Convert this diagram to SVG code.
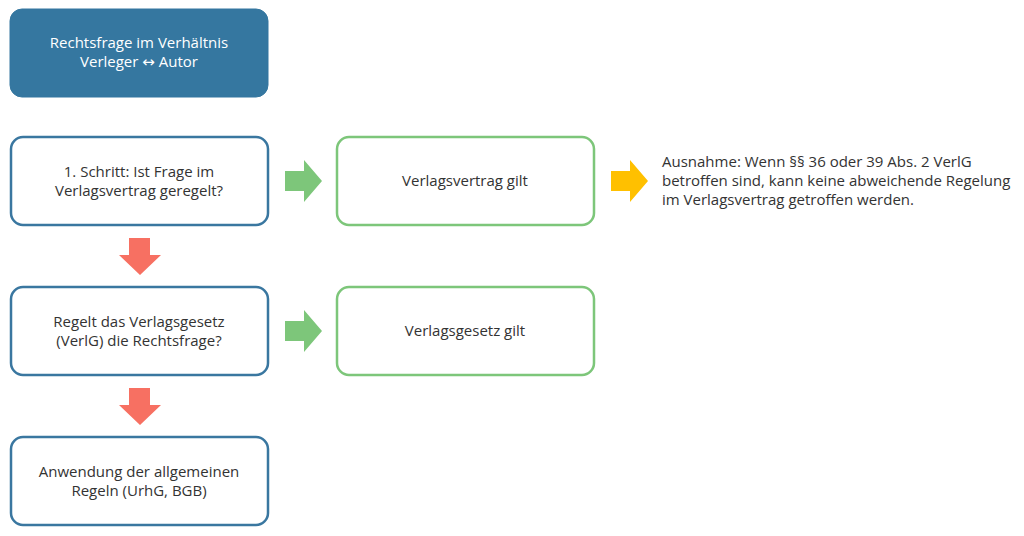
<svg xmlns="http://www.w3.org/2000/svg" width="1024" height="536" viewBox="0 0 1024 536">
<style>
text{font-family:"Open Sans","Noto Sans","DejaVu Sans",sans-serif;font-size:15px;fill:#333333;text-anchor:middle}
.blue{fill:#ffffff;stroke:#3a77a0;stroke-width:2.5}
.green{fill:#ffffff;stroke:#7dc67a;stroke-width:2.5}
.head{fill:#3577a0;stroke:#3577a0;stroke-width:1}
.wt{fill:#ffffff}
</style>
<rect width="1024" height="536" fill="#ffffff"/>
<g id="n0"><rect class="head" x="10" y="9" width="258" height="88" rx="12"/><text class="wt" x="139" y="48">Rechtsfrage im Verhältnis</text><text class="wt" x="139" y="67">Verleger ↔ Autor</text></g>
<g id="n1"><rect class="blue" x="11" y="137" width="257" height="88" rx="12"/><text x="139" y="177">1. Schritt: Ist Frage im</text><text x="139" y="196">Verlagsvertrag geregelt?</text></g>
<g id="n2"><rect class="green" x="337" y="137" width="257" height="88" rx="12"/><text x="465" y="186">Verlagsvertrag gilt</text></g>
<g id="n3"><text x="662" y="167" style="text-anchor:start">Ausnahme: Wenn §§ 36 oder 39 Abs. 2 VerlG</text><text x="662" y="186" style="text-anchor:start">betroffen sind, kann keine abweichende Regelung</text><text x="662" y="205" style="text-anchor:start">im Verlagsvertrag getroffen werden.</text></g>
<g id="n4"><rect class="blue" x="11" y="287" width="257" height="88" rx="12"/><text x="139" y="327">Regelt das Verlagsgesetz</text><text x="139" y="346">(VerlG) die Rechtsfrage?</text></g>
<g id="n5"><rect class="green" x="337" y="287" width="257" height="88" rx="12"/><text x="465" y="336">Verlagsgesetz gilt</text></g>
<g id="n6"><rect class="blue" x="11" y="437" width="257" height="88" rx="12"/><text x="139" y="477">Anwendung der allgemeinen</text><text x="139" y="496">Regeln (UrhG, BGB)</text></g>
<g id="connectors">
<polygon fill="#7dc67a" points="285,171 304,171 304,160 322,181 304,202 304,191 285,191"/>
<polygon fill="#7dc67a" points="285,321 304,321 304,310 322,331 304,352 304,341 285,341"/>
<polygon fill="#ffc000" points="611,171 630,171 630,160 648,181 630,202 630,191 611,191"/>
<polygon fill="#f77062" points="129,238 150,238 150,255 161,255 140,275 119,255 129,255"/>
<polygon fill="#f77062" points="129,388 150,388 150,405 161,405 140,425 119,405 129,405"/>
</g>
</svg>
